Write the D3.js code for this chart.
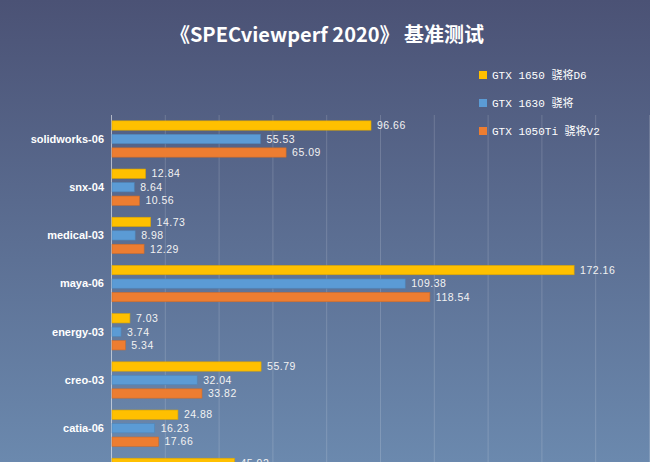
<!DOCTYPE html>
<html>
<head>
<meta charset="utf-8">
<script src="https://cdn.jsdelivr.net/npm/d3@7"></script>
<style>
  html, body { margin: 0; padding: 0; overflow: hidden; }
  svg { display: block; }
</style>
</head>
<body>
<script>
// data
var categories = ["solidworks-06", "snx-04", "medical-03", "maya-06", "energy-03", "creo-03", "catia-06", "3dsmax-07"];
var seriesNames = ["GTX 1650 骁将D6", "GTX 1630 骁将", "GTX 1050Ti 骁将V2"];
var gtx1650 = [96.66, 12.84, 14.73, 172.16, 7.03, 55.79, 24.88, 45.92];
var gtx1630 = [55.53, 8.64, 8.98, 109.38, 3.74, 32.04, 16.23, null];
var gtx1050ti = [65.09, 10.56, 12.29, 118.54, 5.34, 33.82, 17.66, null];
var colors = ["#ffc000", "#5b9bd5", "#ed7d31"];
var xTicks = [0, 20, 40, 60, 80, 100, 120, 140, 160, 180, 200];

var width = 650,
    height = 462;

var svg = d3.select("body").append("svg")
    .attr("width", width)
    .attr("height", height);

// background gradient
var defs = svg.append("defs");
var grad = defs.append("linearGradient")
    .attr("id", "bg")
    .attr("x1", 0).attr("y1", 0)
    .attr("x2", 0).attr("y2", 1);
grad.append("stop").attr("offset", "0%").attr("stop-color", "#4b5275");
grad.append("stop").attr("offset", "100%").attr("stop-color", "#6b89ae");

svg.append("rect")
    .attr("width", width)
    .attr("height", height)
    .attr("fill", "url(#bg)");

// title
svg.append("text")
    .attr("x", 327)
    .attr("y", 42)
    .attr("text-anchor", "middle")
    .attr("fill", "#ffffff")
    .style("font-family", "'Noto Sans CJK SC', sans-serif")
    .style("font-weight", "bold")
    .style("font-size", "20px")
    .text("《SPECviewperf 2020》 基准测试");

// scales
var x = d3.scaleLinear()
    .domain([0, 200])
    .range([111, 649]);

var bandStep = 48.2;
var y0 = d3.scaleBand()
    .domain(categories)
    .range([114.9, 114.9 + bandStep * categories.length]);

var y1 = d3.scaleBand()
    .domain([0, 1, 2])
    .range([5.95, 42.25])
    .paddingInner(0.311);

var plotTop = 115,
    plotBottom = y0.range()[1];

// gridlines
svg.append("g")
    .selectAll("line")
    .data(xTicks.slice(1))
    .enter().append("line")
    .attr("x1", function(d) { return x(d) + 0.5; })
    .attr("x2", function(d) { return x(d) + 0.5; })
    .attr("y1", plotTop)
    .attr("y2", plotBottom)
    .attr("stroke", "rgba(255,255,255,0.16)")
    .attr("stroke-width", 1);

// y axis line
svg.append("line")
    .attr("x1", x(0) + 0.5)
    .attr("x2", x(0) + 0.5)
    .attr("y1", plotTop)
    .attr("y2", plotBottom)
    .attr("stroke", "rgba(255,255,255,0.55)")
    .attr("stroke-width", 1);

// category labels
svg.append("g")
    .selectAll("text")
    .data(categories)
    .enter().append("text")
    .attr("x", 104)
    .attr("y", function(d) { return y0(d) + y0.bandwidth() / 2; })
    .attr("dy", "0.35em")
    .attr("text-anchor", "end")
    .attr("fill", "#ffffff")
    .style("font-family", "'Liberation Sans', Arial, sans-serif")
    .style("font-weight", "bold")
    .style("font-size", "11px")
    .text(function(d) { return d; });

// bars
var allSeries = [gtx1650, gtx1630, gtx1050ti];
var barData = [];
categories.forEach(function(c, ci) {
  allSeries.forEach(function(s, si) {
    if (s[ci] != null) barData.push({ cat: c, s: si, v: s[ci] });
  });
});

var bars = svg.append("g");

bars.selectAll("rect")
    .data(barData)
    .enter().append("rect")
    .attr("x", x(0) + 1)
    .attr("y", function(d) { return y0(d.cat) + y1(d.s); })
    .attr("width", function(d) { return x(d.v) - x(0) - 1; })
    .attr("height", y1.bandwidth())
    .attr("fill", function(d) { return colors[d.s]; })
    .attr("stroke", function(d) { return d3.color(colors[d.s]).darker(0.4); })
    .attr("stroke-width", 0.6);

bars.selectAll("text")
    .data(barData)
    .enter().append("text")
    .attr("x", function(d) { return x(d.v) + 6; })
    .attr("y", function(d) { return y0(d.cat) + y1(d.s) + y1.bandwidth() / 2; })
    .attr("dy", "0.36em")
    .attr("fill", "#f2f2f2")
    .style("font-family", "'Liberation Sans', Arial, sans-serif")
    .style("font-size", "10.5px")
    .style("letter-spacing", "0.5px")
    .text(function(d) { return d.v.toFixed(2); });

// legend
var legend = svg.append("g")
    .selectAll("g")
    .data(seriesNames)
    .enter().append("g")
    .attr("transform", function(d, i) { return "translate(479," + (75 + i * 28) + ")"; });

legend.append("rect")
    .attr("x", 0)
    .attr("y", -4)
    .attr("width", 8)
    .attr("height", 8)
    .attr("fill", function(d, i) { return colors[i]; });

legend.append("text")
    .attr("x", 13)
    .attr("y", 0)
    .attr("dy", "0.36em")
    .attr("fill", "#ffffff")
    .style("font-family", "'Liberation Mono', 'Noto Sans CJK SC', monospace")
    .style("font-size", "11px")
    .text(function(d) { return d; });
</script>
</body>
</html>
